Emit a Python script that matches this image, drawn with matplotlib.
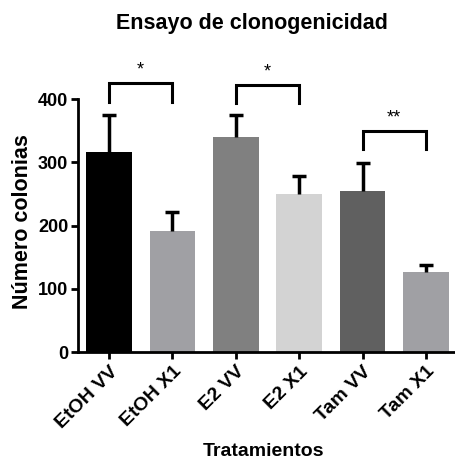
import matplotlib
matplotlib.use("Agg")
import matplotlib.pyplot as plt

plt.rcParams['font.family'] = ['Liberation Sans', 'DejaVu Sans']
plt.rcParams['font.weight'] = 'bold'

# colony counts per treatment (mean and upper SEM end)
treatments = ['EtOH VV', 'EtOH X1', 'E2 VV', 'E2 X1', 'Tam VV', 'Tam X1']
means = [316, 191, 340, 250, 255, 126]
err_top = [375, 221, 375, 278, 299, 137]
colors = ['#000000', '#a0a0a4', '#808080', '#d3d3d3', '#606060', '#a0a0a4']

# significance brackets: (left bar, right bar, bar height, leg end, label)
brackets = [(0, 1, 425, 395, '*'), (2, 3, 422, 393, '*'), (4, 5, 349, 321, '**')]

x = list(range(len(treatments)))

fig = plt.figure(figsize=(4.56, 4.65), dpi=100)
ax = fig.add_axes([0.171, 0.243, 0.827, 0.544])

ax.bar(x, means, width=0.72, color=colors, zorder=2)
# upper error bars only
ax.vlines(x, means, err_top, color='black', lw=2.5, zorder=3)
ax.hlines(err_top, [i - 0.11 for i in x], [i + 0.11 for i in x],
          color='black', lw=2.5, zorder=3)

for i, j, h, leg, lab in brackets:
    ax.plot([i, i, j, j], [leg, h, h, leg], color='black', lw=2.2,
            clip_on=False, solid_joinstyle='miter')
    ax.text((i + j) / 2, h + 7, lab, ha='center', va='bottom',
            fontsize=13, fontweight='normal', clip_on=False)

ax.set_xlim(-0.49, 5.46)
ax.set_ylim(0, 400)
ax.set_yticks([0, 100, 200, 300, 400])
ax.set_xticks(x)
ax.set_xticklabels(treatments, rotation=45, ha='right', rotation_mode='anchor',
                   fontsize=14, fontweight='bold')
ax.tick_params(axis='y', labelsize=13, width=2, length=5, pad=2)
ax.tick_params(axis='x', width=2, length=5, pad=3)
for lbl in ax.get_yticklabels():
    lbl.set_fontweight('bold')

for side in ['top', 'right']:
    ax.spines[side].set_visible(False)
for side in ['left', 'bottom']:
    ax.spines[side].set_linewidth(2)

ax.set_ylabel('Número colonias', fontsize=15.5, fontweight='bold')
ax.yaxis.set_label_coords(-0.12, 0.515)
ax.set_xlabel('Tratamientos', fontsize=14, fontweight='bold')
ax.xaxis.set_label_coords(0.493, -0.36)
fig.text(0.553, 0.95, 'Ensayo de clonogenicidad', ha='center', va='center',
         fontsize=15.5, fontweight='bold')

fig.savefig('out.png', dpi=100)
